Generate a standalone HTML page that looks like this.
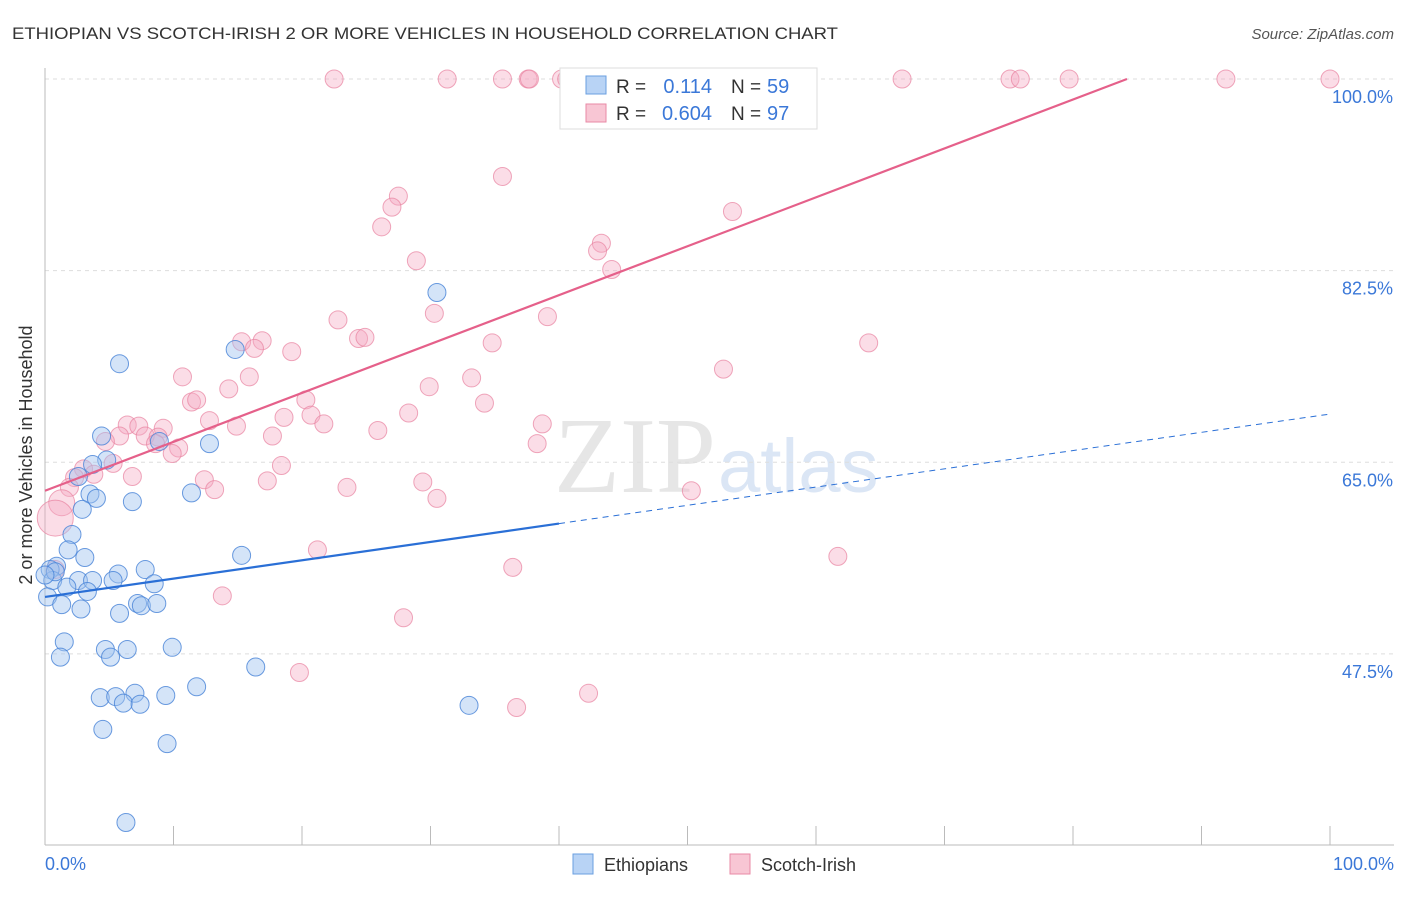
<!DOCTYPE html>
<html><head><meta charset="utf-8"><style>
body{margin:0;background:#fff;font-family:"Liberation Sans",sans-serif}
</style></head><body>
<svg width="1406" height="892" xmlns="http://www.w3.org/2000/svg" id="chart">
<text x="12" y="39" font-size="17" fill="#333" textLength="826" lengthAdjust="spacingAndGlyphs">ETHIOPIAN VS SCOTCH-IRISH 2 OR MORE VEHICLES IN HOUSEHOLD CORRELATION CHART</text>
<text x="1394" y="39" font-size="15" fill="#555" font-style="italic" text-anchor="end">Source: ZipAtlas.com</text>
<text x="32" y="455" font-size="18" fill="#333" text-anchor="middle" transform="rotate(-90 32 455)">2 or more Vehicles in Household</text>
<text x="716" y="492" font-size="108" fill="#e6e6e6" text-anchor="end" font-family="Liberation Serif,serif">ZIP</text>
<text x="718" y="492" font-size="76" fill="#dbe6f5">atlas</text>
<g id="grid"></g><g id="axes"></g><g id="pts"></g><g id="lines"></g>
<g>
<rect x="560" y="68" width="257" height="61" fill="#fff" stroke="#ddd"/>
<rect x="586" y="76" width="20" height="18" fill="#b8d3f5" stroke="#6a9fe0"/>
<text x="616" y="93" font-size="19" fill="#333">R = </text><text x="712" y="93" font-size="20" fill="#3b78d8" text-anchor="end">0.114</text>
<text x="731" y="93" font-size="19" fill="#333">N = </text><text x="767" y="93" font-size="20" fill="#3b78d8">59</text>
<rect x="586" y="104" width="20" height="18" fill="#f8c6d4" stroke="#e88aa6"/>
<text x="616" y="120" font-size="19" fill="#333">R = </text><text x="712" y="120" font-size="20" fill="#3b78d8" text-anchor="end">0.604</text>
<text x="731" y="120" font-size="19" fill="#333">N = </text><text x="767" y="120" font-size="20" fill="#3b78d8">97</text>
</g>
<g>
<rect x="573" y="854" width="20" height="20" fill="#b8d3f5" stroke="#6a9fe0"/>
<text x="604" y="871" font-size="18" fill="#333">Ethiopians</text>
<rect x="730" y="854" width="20" height="20" fill="#f8c6d4" stroke="#e88aa6"/>
<text x="761" y="871" font-size="18" fill="#333">Scotch-Irish</text>
</g>
</svg>
<script>
const blueX=[5.8,30.5,14.8,4.4,12.8,4.8,3.7,2.6,3.5,4.0,6.8,11.4,2.9,2.1,1.8,3.1,15.3,7.8,5.7,0.9,0.4,0.6,2.6,3.7,5.3,8.5,1.7,3.3,0.2,1.3,2.8,5.8,7.2,7.5,8.7,1.5,1.2,4.7,5.1,6.4,9.9,16.4,4.3,5.5,7.0,6.1,7.4,9.4,11.8,33.0,4.5,9.5,6.3,8.9,0.8,0.0];
const blueY=[74.0,80.5,75.3,67.4,66.7,65.2,64.8,63.7,62.1,61.7,61.4,62.2,60.7,58.4,57.0,56.3,56.5,55.2,54.8,55.5,55.2,54.2,54.2,54.2,54.2,53.9,53.6,53.2,52.7,52.0,51.6,51.2,52.1,51.9,52.1,48.6,47.2,47.9,47.2,47.9,48.1,46.3,43.5,43.6,43.9,43.0,42.9,43.7,44.5,42.8,40.6,39.3,32.1,66.9,55.0,54.7];
const pinkX=[22.5,31.3,35.6,37.6,37.7,40.2,40.6,50.7,51.9,55.9,66.7,75.1,75.9,79.7,91.9,100,35.6,27.5,27.0,53.5,26.2,43.3,43.0,44.1,28.9,22.8,30.3,39.1,24.4,24.9,15.3,16.9,16.3,19.2,34.8,64.1,52.8,10.7,15.9,33.2,14.3,29.9,11.4,11.8,20.3,34.2,28.3,18.6,20.7,12.8,14.9,21.7,38.7,6.4,7.3,9.2,5.8,7.8,8.8,25.9,17.7,4.7,38.3,8.6,10.4,9.9,5.3,18.4,3.0,3.8,6.8,2.3,12.4,17.3,29.4,1.9,23.5,13.2,50.3,30.5,1.3,0.8,21.2,61.7,36.4,0.8,13.8,27.9,19.8,42.3,36.7];
const pinkY=[100,100,100,100,100,100,100,100,100,100,100,100,100,100,100,100,91.1,89.3,88.3,87.9,86.5,85.0,84.3,82.6,83.4,78.0,78.6,78.3,76.3,76.4,76.0,76.1,75.4,75.1,75.9,75.9,73.5,72.8,72.8,72.7,71.7,71.9,70.5,70.7,70.7,70.4,69.5,69.1,69.3,68.8,68.3,68.5,68.5,68.4,68.3,68.1,67.4,67.4,67.3,67.9,67.4,66.9,66.7,66.7,66.3,65.8,64.9,64.7,64.4,63.9,63.7,63.6,63.4,63.3,63.2,62.7,62.7,62.5,62.4,61.7,61.3,59.9,57.0,56.4,55.4,55.2,52.8,50.8,45.8,43.9,42.6];
const pinkR=pinkY.map((v,i)=>i===80?13:(i===81?18:9));
const yTicks=[47.5,65.0,82.5,100.0];
const blueTrend=[0,52.7,40,59.4,100,69.4];
const pinkTrend=[0,62.4,84.2,100];
const X=v=>45+v*12.85, Y=v=>79+(100-v)*10.95;
const NS='http://www.w3.org/2000/svg';
function mk(t,a,p){const e=document.createElementNS(NS,t);for(const k in a)e.setAttribute(k,a[k]);document.getElementById(p).appendChild(e);return e;}
yTicks.forEach(t=>{
 const l=mk('line',{x1:45,x2:1394,y1:Y(t),y2:Y(t),stroke:'#ddd','stroke-dasharray':'4,4'},'grid');
 
 
 const tx=mk('text',{x:1393,y:Y(t)+24,'font-size':18,fill:'#3b78d8','text-anchor':'end'},'grid');
 tx.textContent=t.toFixed(1)+'%';
 
 
});
let ax=mk('line',{x1:45,x2:45,y1:68,y2:845,stroke:'#bbb'},'axes');


ax=mk('line',{x1:45,x2:1394,y1:845,y2:845,stroke:'#bbb'},'axes');


for(let i=0;i<=10;i++){const t=mk('line',{x1:X(i*10),x2:X(i*10),y1:826,y2:845,stroke:'#bbb'},'axes');
 
 }
let xl=mk('text',{x:45,y:870,'font-size':18,fill:'#3b78d8'},'axes');xl.textContent='0.0%';


xl=mk('text',{x:1394,y:870,'font-size':18,fill:'#3b78d8','text-anchor':'end'},'axes');xl.textContent='100.0%';


pinkX.forEach((v,i)=>{const c=mk('circle',{cx:X(v),cy:Y(pinkY[i]),r:pinkR[i],fill:'rgba(245,170,195,0.4)',stroke:'rgba(232,130,160,0.7)','stroke-width':1},'pts');
 
 });
blueX.forEach((v,i)=>{const c=mk('circle',{cx:X(v),cy:Y(blueY[i]),r:9,fill:'rgba(160,195,240,0.45)',stroke:'rgba(70,130,215,0.8)','stroke-width':1},'pts');
 
 });
let tl=mk('line',{x1:X(blueTrend[0]),y1:Y(blueTrend[1]),x2:X(blueTrend[2]),y2:Y(blueTrend[3]),stroke:'#2a6fd6','stroke-width':2.2},'lines');


tl=mk('line',{x1:X(blueTrend[2]),y1:Y(blueTrend[3]),x2:X(blueTrend[4]),y2:Y(blueTrend[5]),stroke:'#2a6fd6','stroke-width':1,'stroke-dasharray':'6,5'},'lines');


tl=mk('line',{x1:X(pinkTrend[0]),y1:Y(pinkTrend[1]),x2:X(pinkTrend[2]),y2:Y(pinkTrend[3]),stroke:'#e5608a','stroke-width':2.2},'lines');


</script>
</body></html>
